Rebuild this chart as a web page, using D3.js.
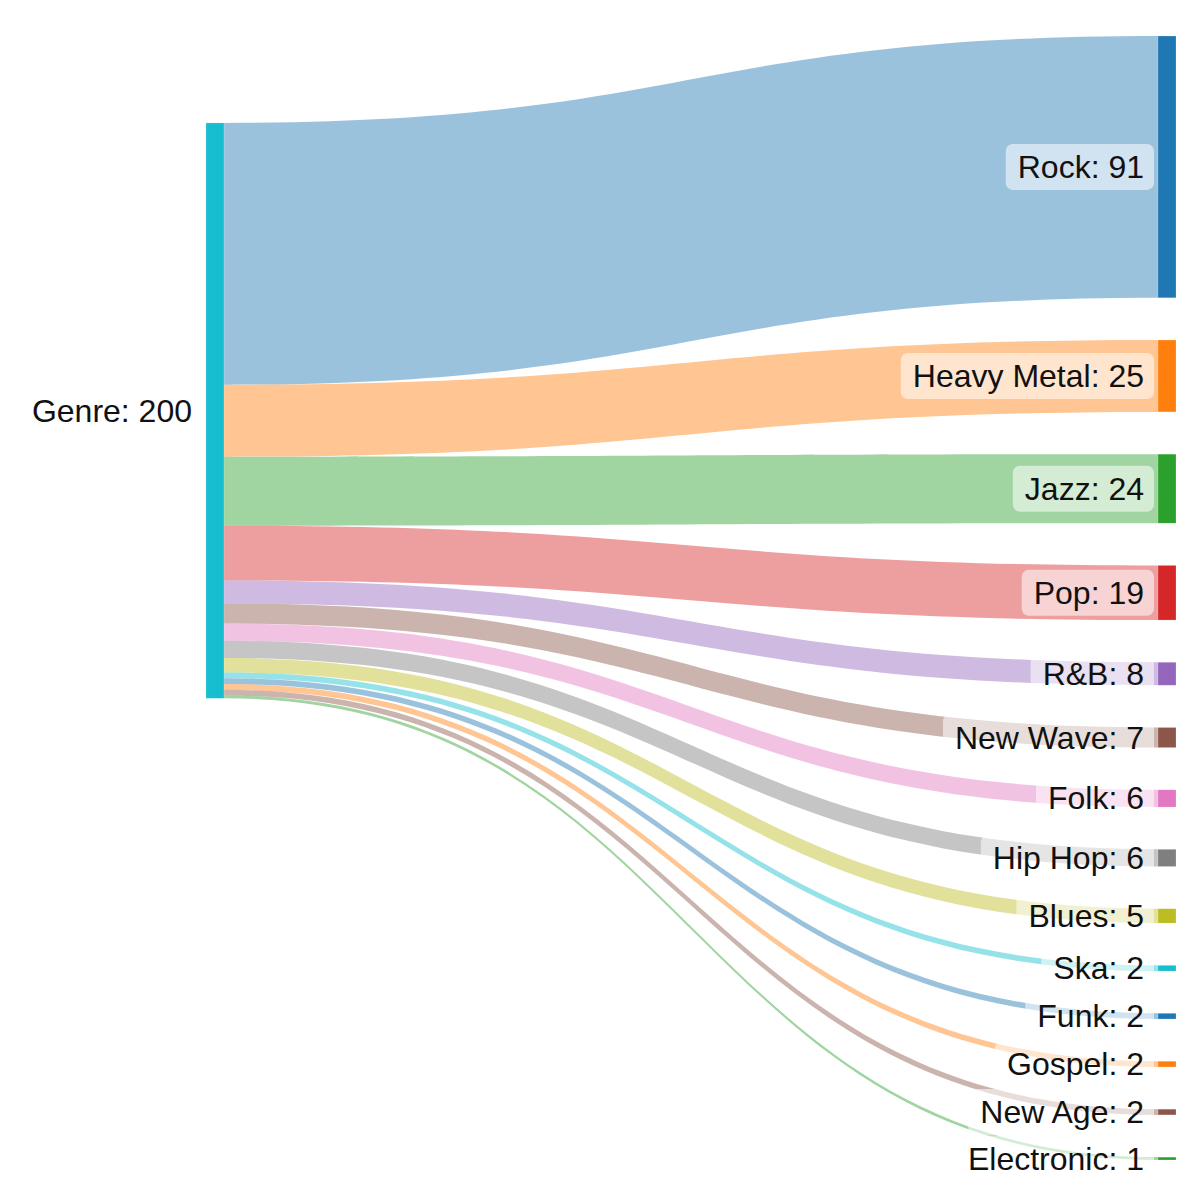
<!DOCTYPE html>
<html>
<head>
<meta charset="utf-8">
<script src="https://cdn.jsdelivr.net/npm/d3@7"></script>
<style>
  html, body { margin: 0; padding: 0; background: #fff; }
  svg { display: block; }
</style>
</head>
<body>
<svg id="chart" width="1200" height="1200"></svg>
<script>
// ---- data ----
const sourceName = "Genre";
const genres = ["Rock", "Heavy Metal", "Jazz", "Pop", "R&B", "New Wave", "Folk", "Hip Hop", "Blues", "Ska", "Funk", "Gospel", "New Age", "Electronic"];
const counts = [91, 25, 24, 19, 8, 7, 6, 6, 5, 2, 2, 2, 2, 1];
const sourceColor = "#17becf";
const genreColors = ["#1f77b4", "#ff7f0e", "#2ca02c", "#d62728", "#9467bd", "#8c564b", "#e377c2", "#7f7f7f", "#bcbd22", "#17becf", "#1f77b4", "#ff7f0e", "#8c564b", "#2ca02c"];

// ---- layout ----
const W = 1200, H = 1200;
const nodeWidth = 18;
const nodePadding = 42.2;
const extentY = [36, 1160];
const fontSize = 32;

const svg = d3.select("#chart");
const total = d3.sum(counts);

const xCol = d3.scaleLinear().domain([0, 1]).range([206, 1158]);
const k = ((extentY[1] - extentY[0]) - (genres.length - 1) * nodePadding) / total;
const hScale = d3.scaleLinear().domain([0, total]).range([0, total * k]);

// target nodes
let yCursor = extentY[0];
const targets = genres.map((g, i) => {
  const h = hScale(counts[i]);
  const n = { name: g, value: counts[i], color: genreColors[i], x0: xCol(1), x1: xCol(1) + nodeWidth, y0: yCursor, y1: yCursor + h };
  yCursor += h + nodePadding;
  return n;
});
// source node centred on value-weighted mean of target centres
const srcCenter = d3.sum(targets, t => t.value * (t.y0 + t.y1) / 2) / total;
const srcH = hScale(total);
const source = { name: sourceName, value: total, color: sourceColor, x0: xCol(0), x1: xCol(0) + nodeWidth, y0: srcCenter - srcH / 2, y1: srcCenter + srcH / 2 };

// links
let sy = source.y0;
const links = targets.map(t => {
  const h = hScale(t.value);
  const l = { target: t, sy0: sy, sy1: sy + h, ty0: t.y0, ty1: t.y1, color: t.color };
  sy += h;
  return l;
});

function bandPath(l) {
  const x0 = source.x1, x1 = l.target.x0, xm = (x0 + x1) / 2;
  return `M${x0},${l.sy0}C${xm},${l.sy0} ${xm},${l.ty0} ${x1},${l.ty0}` +
         `L${x1},${l.ty1}C${xm},${l.ty1} ${xm},${l.sy1} ${x0},${l.sy1}Z`;
}

svg.append("g").selectAll("path")
  .data(links).join("path")
  .attr("d", bandPath)
  .attr("fill", d => d.color)
  .attr("fill-opacity", 0.45);

const allNodes = [source, ...targets];
svg.append("g").selectAll("rect")
  .data(allNodes).join("rect")
  .attr("x", d => d.x0).attr("y", d => d.y0)
  .attr("width", d => d.x1 - d.x0).attr("height", d => Math.max(1, d.y1 - d.y0))
  .attr("fill", d => d.color)
  .attr("stroke", "#fff").attr("stroke-opacity", 0.4).attr("stroke-width", 0.5);

// labels
const labelG = svg.append("g")
  .attr("font-family", "'Liberation Sans', Arial, Helvetica, sans-serif")
  .attr("font-size", fontSize);

allNodes.forEach(n => {
  const g = labelG.append("g");
  const tx = n.x0 - 14;
  const ty = (n.y0 + n.y1) / 2;
  const rect = g.append("rect");
  const text = g.append("text")
    .attr("x", tx).attr("y", ty)
    .attr("text-anchor", "end")
    .attr("dominant-baseline", "central")
    .attr("fill", "#111")
    .text(`${n.name}: ${n.value}`);
  const bb = text.node().getBBox();
  const bh = 46;
  rect.attr("x", bb.x - 12).attr("y", ty - bh / 2)
    .attr("width", bb.width + 22).attr("height", bh)
    .attr("rx", 7).attr("ry", 7)
    .attr("fill", "#fff").attr("fill-opacity", 0.55);
});
</script>
</body>
</html>
